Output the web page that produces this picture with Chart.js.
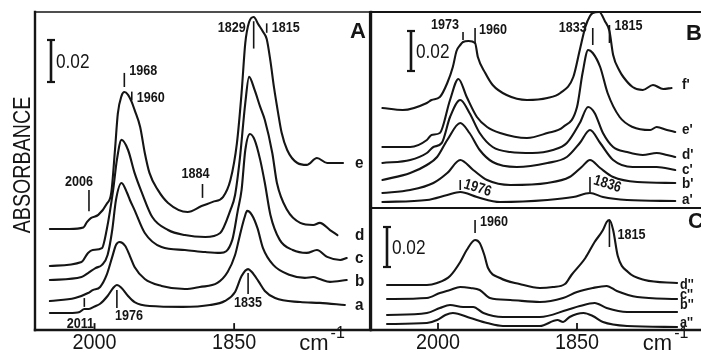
<!DOCTYPE html>
<html>
<head>
<meta charset="utf-8">
<script src="https://cdn.jsdelivr.net/npm/chart.js@4.4.0/dist/chart.umd.min.js"></script>
<style>
  html, body { margin: 0; padding: 0; background: #fff; }
  #wrap { position: relative; width: 701px; height: 354px; overflow: hidden; background: #fff; }
  #wrap canvas { position: absolute; left: 0; top: 0; }
</style>
</head>
<body>
<div id="wrap">
  <canvas id="panelA" width="701" height="354"></canvas>
  <canvas id="panelB" width="701" height="354"></canvas>
  <canvas id="panelC" width="701" height="354"></canvas>
</div>
<script>
const INK = '#151515';
const FONT = '"Liberation Sans", Arial, sans-serif';

// spectra: [wavenumber cm-1, absorbance x 1000], stacked with their offsets
const specA_a = [[2048,8.1],[2027,8.1],[2016,8.6],[2011,10.0],[2006,10.0],[2000,11.2],[1994,12.5],[1986,16.2],[1980,20.0],[1976,21.4],[1971,20.0],[1964,16.2],[1957,13.3],[1941,11.4],[1905,11.0],[1876,11.9],[1860,13.8],[1849,18.1],[1842,25.7],[1835,29.0],[1831,27.6],[1824,23.3],[1817,18.6],[1806,15.2],[1779,13.3],[1758,12.9],[1731,11.9]];
const specA_b = [[2048,13.8],[2021,15.2],[2007,17.6],[2002,19.0],[1994,20.5],[1987,26.2],[1981,34.8],[1977,40.5],[1973,41.9],[1967,40.0],[1962,35.2],[1957,30.0],[1946,24.3],[1928,21.0],[1903,19.5],[1887,20.5],[1868,22.4],[1857,27.6],[1849,35.7],[1844,44.8],[1839,53.3],[1836,56.7],[1831,54.8],[1825,48.6],[1819,39.0],[1808,31.0],[1790,26.2],[1774,24.8],[1765,25.2],[1758,24.3],[1747,22.9],[1729,23.8]];
const specA_c = [[2048,23.8],[2014,25.2],[2007,27.1],[1999,29.5],[1992,31.0],[1986,35.7],[1981,47.6],[1977,61.9],[1971,70.0],[1965,65.2],[1962,61.9],[1957,57.1],[1946,46.2],[1928,39.5],[1903,38.1],[1881,37.1],[1865,36.7],[1852,42.9],[1846,57.1],[1842,66.7],[1838,85.7],[1833,93.3],[1828,90.5],[1822,81.0],[1817,70.0],[1811,54.8],[1801,42.9],[1787,38.1],[1772,36.7],[1761,38.1],[1750,34.8],[1736,33.3],[1729,34.3]];
const specA_d = [[2048,30.5],[2014,32.4],[2007,36.7],[2002,38.1],[1992,39.0],[1987,47.6],[1980,66.7],[1976,81.0],[1971,90.5],[1964,85.7],[1957,74.8],[1949,65.2],[1938,53.8],[1921,47.6],[1903,45.2],[1881,44.3],[1865,46.2],[1854,57.1],[1849,64.3],[1844,81.0],[1838,108.1],[1834,120.5],[1828,114.3],[1822,106.2],[1817,100.0],[1809,84.3],[1804,70.0],[1793,57.1],[1779,51.0],[1765,50.0],[1758,51.0],[1747,47.6],[1739,45.2]];
const specA_e = [[2048,48.1],[2027,48.1],[2012,48.8],[2008,51.5],[2004,53.3],[1996,54.8],[1987,60.0],[1982,65.5],[1978,86.0],[1975,103.0],[1971,111.5],[1968,113.3],[1964,112.0],[1960,108.5],[1957,104.8],[1951,96.7],[1946,84.3],[1941,74.8],[1932,66.7],[1921,60.5],[1900,56.2],[1885,59.0],[1873,61.0],[1862,63.3],[1854,71.4],[1847,89.0],[1842,112.9],[1838,136.7],[1834,146.5],[1829,149.0],[1824,145.5],[1819,142.0],[1815,138.5],[1811,128.0],[1807,115.0],[1803,104.0],[1799,94.0],[1793,85.7],[1782,79.5],[1772,78.6],[1761,81.9],[1750,79.5],[1733,79.5]];

const specB_a = [[2060,2.5],[2012,3.5],[1990,6.0],[1976,7.5],[1958,5.0],[1933,2.5],[1882,3.5],[1854,5.0],[1836,7.0],[1822,5.0],[1796,3.5],[1744,3.0]];
const specB_b = [[2060,7.0],[2030,8.5],[2005,12.0],[1990,17.0],[1976,23.5],[1962,18.5],[1947,13.5],[1922,11.0],[1882,12.0],[1858,15.0],[1845,20.0],[1836,23.5],[1825,19.5],[1811,15.0],[1785,12.5],[1744,12.0]];
const specB_c = [[2060,13.5],[2030,17.0],[2012,21.0],[2001,25.0],[1990,33.5],[1976,42.0],[1966,37.0],[1955,28.5],[1941,22.5],[1915,20.0],[1882,22.0],[1861,25.0],[1847,32.0],[1836,38.5],[1825,32.0],[1811,23.5],[1790,20.0],[1764,20.0],[1744,18.5]];
const specB_d = [[2060,22.0],[2030,23.5],[2012,27.0],[2005,30.0],[1996,32.0],[1987,45.0],[1976,53.5],[1966,47.0],[1955,37.0],[1941,30.0],[1922,27.5],[1898,27.0],[1876,28.5],[1861,32.0],[1847,42.0],[1838,50.0],[1831,47.0],[1822,37.0],[1811,30.0],[1796,27.5],[1779,26.0],[1764,27.0],[1753,26.0],[1744,25.0]];
const specB_e = [[2060,30.0],[2030,30.0],[2012,33.5],[2007,36.0],[1998,37.0],[1987,53.5],[1978,64.0],[1969,55.0],[1958,45.0],[1947,40.0],[1933,37.0],[1904,34.5],[1882,37.0],[1865,40.0],[1850,50.0],[1844,67.0],[1838,78.5],[1833,77.0],[1825,70.0],[1817,57.0],[1804,45.0],[1790,40.0],[1771,38.5],[1764,40.0],[1753,38.5],[1744,37.5]];
const specB_f = [[2060,49.5],[2038,48.5],[2012,52.0],[2007,53.5],[1998,55.0],[1990,62.0],[1984,70.0],[1980,78.0],[1976,81.0],[1973,82.5],[1967,83.0],[1960,82.0],[1957,75.0],[1949,67.0],[1941,61.0],[1926,56.0],[1904,53.5],[1882,54.5],[1868,57.0],[1854,65.0],[1847,78.5],[1841,90.0],[1836,95.5],[1833,97.0],[1826,97.5],[1820,93.0],[1815,88.0],[1811,76.0],[1804,68.0],[1800,65.0],[1790,60.0],[1779,58.5],[1768,61.0],[1757,59.0],[1748,59.5]];

const specC_a = [[2055,3.0],[2012,3.5],[2001,5.0],[1992,7.5],[1984,8.5],[1965,6.0],[1947,3.5],[1930,2.0],[1890,2.0],[1871,5.0],[1865,4.0],[1858,6.5],[1843,8.5],[1833,7.0],[1822,4.0],[1796,2.0],[1742,1.5]];
const specC_b = [[2055,7.5],[2012,8.5],[1998,11.0],[1987,12.5],[1973,11.5],[1962,11.5],[1951,8.5],[1930,6.5],[1890,6.5],[1861,10.0],[1847,12.0],[1831,13.5],[1818,11.0],[1796,9.0],[1742,9.0]];
const specC_c = [[2055,15.5],[2012,16.0],[1998,18.5],[1987,20.0],[1976,21.5],[1965,21.0],[1955,20.0],[1944,16.0],[1922,15.0],[1890,14.0],[1865,16.0],[1850,19.0],[1833,21.0],[1818,22.0],[1807,19.5],[1785,16.5],[1742,15.5]];
const specC_d = [[2055,22.5],[2012,22.5],[2001,23.5],[1987,27.0],[1976,34.0],[1969,40.0],[1960,45.0],[1955,43.5],[1950,37.5],[1946,31.0],[1933,26.0],[1912,23.0],[1890,21.0],[1876,21.5],[1863,23.0],[1856,27.5],[1841,36.0],[1831,44.0],[1822,50.0],[1818,54.0],[1815,55.0],[1811,50.0],[1806,37.0],[1795,29.0],[1777,25.0],[1742,23.5]];

const labelsA = ['a', 'b', 'c', 'd', 'e'];
const labelsB = ["a'", "b'", "c'", "d'", "e'", "f'"];
const labelsC = ["a''", "b''", "c''", "d''"];

const axisTicks = [2000, 1850];
const scaleBar = 20;          // 0.02 absorbance units
const scaleBarText = '0.02';

const peaksA = [1968, 1960, 2006, 1884, 1829, 1815, 2011, 1976, 1835];
const peaksB = [1973, 1960, 1833, 1815, 1976, 1836];
const peaksC = [1960, 1815];

// where each peak marker sits: tick from y0 to y1, text at height ty, shifted dx px
const peakLayoutA = [
  { y0: 115.7, y1: 122.4, ty: 123.3, dx: 5, align: 'left' },
  { y0: 109.3, y1: 113.5, ty: 110.5, dx: 5, align: 'left' },
  { y0: 56.5, y1: 66.7, ty: 70.5, dx: 4, align: 'right' },
  { y0: 62.9, y1: 69.5, ty: 74.3, dx: -7, align: 'center' },
  { y0: 134, y1: 147, ty: 143.8, dx: -8, align: 'right' },
  { y0: 141.5, y1: 146, ty: 143.8, dx: 5, align: 'left' },
  { y0: 11, y1: 15.2, ty: 2.9, dx: -4, align: 'center' },
  { y0: 10.5, y1: 19, ty: 6.7, dx: -2, align: 'left' },
  { y0: 17.1, y1: 27.1, ty: 12.9, dx: 0, align: 'center' }
];
const peakLayoutB = [
  { y0: 83.5, y1: 87.5, ty: 91, dx: -4, align: 'right' },
  { y0: 81.5, y1: 89.5, ty: 88.5, dx: 4, align: 'left' },
  { y0: 81, y1: 89.5, ty: 89.5, dx: -6, align: 'right' },
  { y0: 82, y1: 91, ty: 90.5, dx: 5, align: 'left' },
  { y0: 8.5, y1: 13.5, ty: 11.5, dx: 4, align: 'left', rot: 0.3 },
  { y0: 7.5, y1: 15, ty: 13.5, dx: 4, align: 'left', rot: 0.3 }
];
const peakLayoutC = [
  { y0: 48.5, y1: 55, ty: 54, dx: 5, align: 'left' },
  { y0: 41.5, y1: 55, ty: 47.5, dx: 8, align: 'left' }
];

function drawText(ctx, text, x, y, size, o = {}) {
  ctx.save();
  ctx.translate(x, y);
  if (o.rot) ctx.rotate(o.rot);
  ctx.scale(o.sx || 1, 1);
  ctx.font = `${o.weight || 'normal'} ${size}px ${FONT}`;
  ctx.textAlign = o.align || 'left';
  ctx.textBaseline = 'middle';
  ctx.fillStyle = INK;
  ctx.fillText(text, 0, 0);
  ctx.restore();
}

function line(ctx, x1, y1, x2, y2, w) {
  ctx.lineWidth = w;
  ctx.beginPath(); ctx.moveTo(x1, y1); ctx.lineTo(x2, y2); ctx.stroke();
}

function makeDecor(cfg) {
  return {
    id: 'decor',
    afterDatasetsDraw(chart) {
      const ctx = chart.ctx, a = chart.chartArea;
      const X = v => chart.scales.x.getPixelForValue(v);
      const Y = v => chart.scales.y.getPixelForValue(v);
      ctx.save();
      ctx.strokeStyle = INK;
      ctx.lineCap = 'square';

      // frame
      if (cfg.edges.includes('left')) line(ctx, a.left, a.top, a.left, a.bottom, 2.4);
      if (cfg.edges.includes('right')) line(ctx, a.right, a.top, a.right, a.bottom, 2.2);
      if (cfg.edges.includes('top')) line(ctx, a.left, a.top, a.right, a.top, cfg.topWidth || 1.6);
      if (cfg.edges.includes('bottom')) line(ctx, a.left, a.bottom, a.right, a.bottom, 2.4);

      // wavenumber axis under the panel
      if (cfg.axis) {
        axisTicks.forEach(t => {
          line(ctx, X(t), a.bottom, X(t), a.bottom - 6, 1.8);
          drawText(ctx, String(t), X(t), a.bottom + 13, 22, { align: 'center', sx: 0.9 });
        });
        const ux = X(cfg.unitWn);
        drawText(ctx, 'cm', ux, a.bottom + 14, 22);
        ctx.font = `normal 22px ${FONT}`;
        drawText(ctx, '-1', ux + ctx.measureText('cm').width + 2, a.bottom + 4, 16);
      }

      // 0.02 absorbance bar
      const bx = cfg.bar.x, bt = cfg.bar.top;
      const bl = Y(0) - Y(scaleBar);
      ctx.lineCap = 'butt';
      line(ctx, bx, bt, bx, bt + bl, 2.6);
      line(ctx, bx - 4, bt, bx + 4, bt, 2.2);
      line(ctx, bx - 4, bt + bl, bx + 4, bt + bl, 2.2);
      drawText(ctx, scaleBarText, bx + 5, bt + bl / 2 + 1, 21, { sx: 0.82 });

      // peak positions
      cfg.peaks.forEach((p, i) => {
        const L = cfg.layout[i];
        const x = X(p);
        line(ctx, x, Y(L.y0), x, Y(L.y1), 1.6);
        drawText(ctx, String(p), x + L.dx, Y(L.ty), 15, { weight: 'bold', align: L.align, sx: 0.84, rot: L.rot });
      });

      // curve names at the right-hand end of each trace
      chart.data.datasets.forEach((ds, i) => {
        const last = ds.data[ds.data.length - 1];
        drawText(ctx, cfg.names[i], cfg.nameX, Y(last.y) + (cfg.nameDy[i] || 0), cfg.nameSize, { weight: 'bold', sx: 0.9 });
      });

      drawText(ctx, cfg.letter, cfg.letterX, cfg.letterY, 22, { weight: 'bold', align: 'center' });

      if (cfg.yTitle) {
        drawText(ctx, 'ABSORBANCE', 23, 165, 24, { align: 'center', rot: -Math.PI / 2, sx: 0.82 });
      }
      ctx.restore();
    }
  };
}

function makePanel(id, series, cfg) {
  return new Chart(document.getElementById(id), {
    type: 'line',
    data: {
      datasets: series.map((s, i) => ({
        label: cfg.names[i],
        data: s.map(([x, y]) => ({ x, y })),
        borderColor: INK,
        borderWidth: 2.1,
        borderJoinStyle: 'round',
        borderCapStyle: 'round',
        pointRadius: 0,
        cubicInterpolationMode: 'monotone',
        fill: false,
        clip: 6
      }))
    },
    options: {
      responsive: false,
      animation: false,
      events: [],
      layout: { padding: cfg.pad },
      scales: {
        x: { type: 'linear', reverse: true, min: cfg.xMin, max: cfg.xMax, display: false },
        y: { type: 'linear', min: 0, max: cfg.yMax, display: false }
      },
      plugins: { legend: { display: false }, tooltip: { enabled: false } }
    },
    plugins: [makeDecor(cfg)]
  });
}

makePanel('panelA', [specA_a, specA_b, specA_c, specA_d, specA_e], {
  pad: { left: 35, top: 12, right: 331, bottom: 24 },
  xMin: 1704, xMax: 2064, yMax: 151.4,
  edges: ['left', 'top', 'right', 'bottom'],
  axis: true, unitWn: 1780,
  bar: { x: 51, top: 40 },
  peaks: peaksA, layout: peakLayoutA,
  names: labelsA, nameX: 355, nameDy: [0, 1, 0, 0, 0], nameSize: 17,
  letter: 'A', letterX: 358, letterY: 32,
  yTitle: true
});

makePanel('panelB', [specB_a, specB_b, specB_c, specB_d, specB_e, specB_f], {
  pad: { left: 371, top: 12, right: 0, bottom: 147 },
  xMin: 1716.2, xMax: 2072.3, yMax: 97.5,
  edges: ['left', 'top'], topWidth: 2,
  axis: false,
  bar: { x: 411, top: 31 },
  peaks: peaksB, layout: peakLayoutB,
  names: labelsB, nameX: 682, nameDy: [-1, 1, 0, -2, -2, -3], nameSize: 15,
  letter: 'B', letterX: 694, letterY: 34
});

makePanel('panelC', [specC_a, specC_b, specC_c, specC_d], {
  pad: { left: 371, top: 208, right: 0, bottom: 24 },
  xMin: 1716.2, xMax: 2072.3, yMax: 61,
  edges: ['left', 'top', 'bottom'], topWidth: 2,
  axis: true, unitWn: 1779,
  bar: { x: 387, top: 227 },
  peaks: peaksC, layout: peakLayoutC,
  names: labelsC, nameX: 680, nameDy: [-4, -7, -4, 2], nameSize: 14,
  letter: 'C', letterX: 696, letterY: 222
});
</script>
</body>
</html>
